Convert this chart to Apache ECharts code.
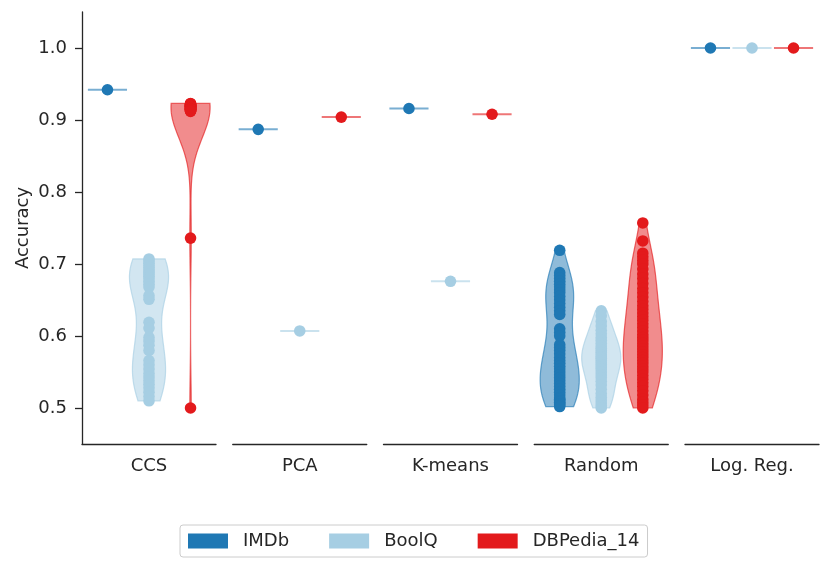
<!DOCTYPE html>
<html><head><meta charset="utf-8">
<script src="https://cdn.jsdelivr.net/npm/echarts@6/dist/echarts.min.js"></script>
<style>html,body{margin:0;padding:0;background:#fff}#c{width:831px;height:572px}</style>
</head><body><div id="c"></div>
<script>
// ---- data ----
const methods = ['CCS', 'PCA', 'K-means', 'Random', 'Log. Reg.'];
const hues = ['IMDb', 'BoolQ', 'DBPedia_14'];
const hueColors = ['#1f78b4', '#a6cee3', '#e31a1c'];
const yTicks = [0.5, 0.6, 0.7, 0.8, 0.9, 1.0];

const ccsIMDb = [0.942];
const ccsBoolQ = [0.707, 0.704, 0.701, 0.698, 0.695, 0.692, 0.689, 0.686, 0.683, 0.680, 0.676, 0.672, 0.668,
  0.656, 0.651, 0.619, 0.611, 0.598, 0.593, 0.587, 0.580, 0.566, 0.560, 0.554, 0.548, 0.543, 0.538, 0.533,
  0.528, 0.522, 0.516, 0.510];
const ccsDBPedia = [0.923, 0.922, 0.922, 0.921, 0.921, 0.920, 0.920, 0.920, 0.919, 0.919, 0.919, 0.918, 0.918,
  0.918, 0.917, 0.917, 0.917, 0.916, 0.916, 0.916, 0.915, 0.915, 0.915, 0.914, 0.914, 0.913, 0.913, 0.912,
  0.736, 0.500];

const pcaIMDb = [0.887];
const pcaBoolQ = [0.607];
const pcaDBPedia = [0.904];

const kmIMDb = [0.916];
const kmBoolQ = [0.676];
const kmDBPedia = [0.908];

const rndIMDb = [0.719, 0.688, 0.684, 0.680, 0.676, 0.672, 0.668, 0.664, 0.660, 0.655, 0.650, 0.645, 0.640,
  0.635, 0.630, 0.610, 0.605, 0.600, 0.588, 0.584, 0.580, 0.575, 0.570, 0.566, 0.562, 0.558, 0.554, 0.550,
  0.546, 0.542, 0.538, 0.534, 0.530, 0.526, 0.522, 0.518, 0.514, 0.512, 0.510, 0.508, 0.506, 0.504, 0.502];
const rndBoolQ = [0.635, 0.628, 0.620, 0.614, 0.608, 0.603, 0.598, 0.594, 0.590, 0.586, 0.583, 0.580, 0.577,
  0.574, 0.571, 0.569, 0.566, 0.563, 0.560, 0.557, 0.554, 0.550, 0.546, 0.542, 0.537, 0.532, 0.526, 0.520,
  0.515, 0.511, 0.507, 0.503, 0.500];
const rndDBPedia = [0.757, 0.732, 0.715, 0.710, 0.705, 0.700, 0.693, 0.686, 0.680, 0.673, 0.666, 0.660, 0.654,
  0.648, 0.642, 0.637, 0.632, 0.627, 0.622, 0.617, 0.612, 0.607, 0.602, 0.598, 0.594, 0.590, 0.586, 0.582,
  0.578, 0.574, 0.570, 0.566, 0.562, 0.558, 0.554, 0.550, 0.545, 0.540, 0.535, 0.530, 0.524, 0.518, 0.512,
  0.508, 0.504, 0.500];

const lrIMDb = [1.0];
const lrBoolQ = [1.0];
const lrDBPedia = [1.0];

const table = [
  [ccsIMDb, ccsBoolQ, ccsDBPedia],
  [pcaIMDb, pcaBoolQ, pcaDBPedia],
  [kmIMDb, kmBoolQ, kmDBPedia],
  [rndIMDb, rndBoolQ, rndDBPedia],
  [lrIMDb, lrBoolQ, lrDBPedia]
];

// ---- helpers ----
function hexA(hex, a) {
  const r = parseInt(hex.slice(1, 3), 16), g = parseInt(hex.slice(3, 5), 16), b = parseInt(hex.slice(5, 7), 16);
  return 'rgba(' + r + ',' + g + ',' + b + ',' + a + ')';
}
function kde(vals) {
  const n = vals.length;
  const lo = Math.min(...vals), hi = Math.max(...vals);
  if (n < 2 || hi - lo < 1e-9) return null;
  const mean = vals.reduce((a, b) => a + b, 0) / n;
  const sd = Math.sqrt(vals.reduce((a, b) => a + (b - mean) * (b - mean), 0) / (n - 1));
  const h = sd * Math.pow(n, -0.2);
  const pts = [];
  for (let i = 0; i < 100; i++) {
    const y = lo + (hi - lo) * i / 99;
    let d = 0;
    for (const v of vals) { const z = (y - v) / h; d += Math.exp(-0.5 * z * z); }
    pts.push([y, d]);
  }
  const m = Math.max(...pts.map(p => p[1]));
  return pts.map(p => [p[0], p[1] / m]);
}

const HUE_OFF = [-0.31, 0, 0.31];   // fraction of band width
const HALF_W = 0.146;                // violin half width, fraction of band width
const TXT = '#262626';
const FONT = 'DejaVu Sans';

const grids = [], xAxes = [], yAxes = [], series = [];
const GL = 82, GSTEP = 150.75, GW = 134;
methods.forEach((m, gi) => {
  grids.push({ left: GL + GSTEP * gi, width: GW, top: 12, height: 432 });
  xAxes.push({
    type: 'category', gridIndex: gi, data: [m],
    axisLine: { show: true, lineStyle: { color: TXT, width: 1.3 } },
    axisTick: { show: false },
    axisLabel: { color: TXT, fontSize: 18, fontFamily: FONT, margin: 13 },
    splitLine: { show: false }
  });
  yAxes.push({
    type: 'value', gridIndex: gi, min: 0.45, max: 1.05, show: gi === 0,
    name: gi === 0 ? 'Accuracy' : '', nameLocation: 'middle', nameGap: 50,
    nameTextStyle: { color: TXT, fontSize: 18, fontFamily: FONT },
    axisLine: { show: true, lineStyle: { color: TXT, width: 1.3 } },
    axisTick: { show: true, length: 7, lineStyle: { color: TXT, width: 1.3 }, customValues: yTicks },
    axisLabel: { color: TXT, fontSize: 18, fontFamily: FONT, margin: 15, customValues: yTicks,
      formatter: v => Number(v).toFixed(1) },
    splitLine: { show: false }
  });
  hues.forEach((hname, hi) => {
    const vals = table[gi][hi];
    const col = hueColors[hi];
    const prof = kde(vals);
    // violin
    series.push({
      type: 'custom', name: hname, xAxisIndex: gi, yAxisIndex: gi, z: 2,
      itemStyle: { color: col }, silent: true,
      data: [[0, vals[0]]],
      renderItem: function (params, api) {
        const bw = api.size([1, 0])[0];
        const cx = api.coord([0, vals[0]])[0] + HUE_OFF[hi] * bw;
        const hw = HALF_W * bw;
        if (!prof) {
          const py = api.coord([0, vals[0]])[1];
          return { type: 'line', shape: { x1: cx - hw, y1: py, x2: cx + hw, y2: py },
            style: { stroke: hexA(col, 0.6), lineWidth: 2 } };
        }
        const right = [], left = [];
        prof.forEach(p => {
          const py = api.coord([0, p[0]])[1];
          right.push([cx + hw * p[1], py]);
          left.push([cx - hw * p[1], py]);
        });
        const poly = right.concat(left.reverse());
        return { type: 'polygon', shape: { points: poly },
          style: { fill: hexA(col, 0.5), stroke: hexA(col, 0.65), lineWidth: 1.2 } };
      }
    });
    // points
    series.push({
      type: 'custom', name: hname, xAxisIndex: gi, yAxisIndex: gi, z: 3,
      itemStyle: { color: col }, silent: true,
      data: vals.map(v => [0, v]),
      renderItem: function (params, api) {
        const bw = api.size([1, 0])[0];
        const c = api.coord([0, api.value(1)]);
        return { type: 'circle', shape: { cx: c[0] + HUE_OFF[hi] * bw, cy: c[1], r: 5.8 },
          style: { fill: col } };
      }
    });
  });
});

const chart = echarts.init(document.getElementById('c'), null, { renderer: 'canvas' });
chart.setOption({
  animation: false,
  backgroundColor: '#ffffff',
  textStyle: { fontFamily: FONT },
  grid: grids, xAxis: xAxes, yAxis: yAxes,
  legend: {
    data: hues.map((h, i) => ({ name: h, itemStyle: { color: hueColors[i] } })),
    left: 180, top: 525, icon: 'rect', itemWidth: 40, itemHeight: 15, itemGap: 40,
    padding: [7, 8], borderColor: '#cccccc', borderWidth: 1, borderRadius: 3,
    selectedMode: false,
    textStyle: { color: TXT, fontSize: 18, fontFamily: FONT, padding: [0, 0, 0, 10] }
  },
  series: series
});
</script></body></html>
